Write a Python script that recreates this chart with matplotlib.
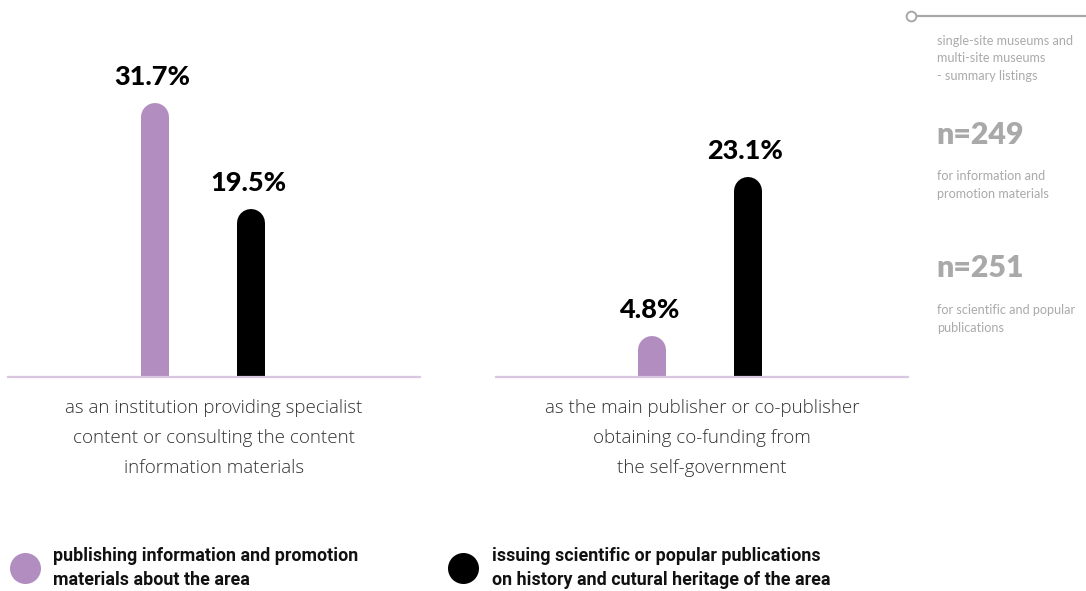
import matplotlib
matplotlib.use("Agg")
import matplotlib.pyplot as plt

# ---------------- data ----------------
series_names = [
    "publishing information and promotion\nmaterials about the area",
    "issuing scientific or popular publications\non history and cutural heritage of the area",
]
series_colors = ["#b28dc0", "#000000"]
categories = [
    "as an institution providing specialist\ncontent or consulting the content\ninformation materials",
    "as the main publisher or co-publisher\nobtaining co-funding from\nthe self-government",
]
promo_values = [31.7, 4.8]
sci_values = [19.5, 23.1]
side_note = "single-site museums and\nmulti-site museums\n- summary listings"
n_labels = ["n=249", "n=251"]
n_notes = ["for information and\npromotion materials", "for scientific and popular\npublications"]

W, H = 1086, 591
DPI = 100
fig = plt.figure(figsize=(W / DPI, H / DPI), dpi=DPI)
fig.patch.set_facecolor("white")

def fx(px):
    return px / W

def fy(py):
    return 1 - py / H

baseline_px = 377
top_px = 30
px_per_pct = 8.64
panel_left = [8, 496]
panel_width = 412
bar_w_px = 28
bar_centers_px = [[155, 251], [652, 748]]

values_by_cat = [[promo_values[i], sci_values[i]] for i in range(len(categories))]

pct_font = dict(family=["Lato", "DejaVu Sans"], weight="black", fontsize=19.5)
for ci, cat in enumerate(categories):
    ax = fig.add_axes([fx(panel_left[ci]), fy(baseline_px),
                       fx(panel_width), (baseline_px - top_px) / H])
    ax.set_xlim(panel_left[ci], panel_left[ci] + panel_width)
    ax.set_ylim(0, (baseline_px - top_px) / px_per_pct)
    r_data = (bar_w_px / 2) / px_per_pct
    lw_pt = bar_w_px * 72 / DPI
    for si, v in enumerate(values_by_cat[ci]):
        xc = bar_centers_px[ci][si]
        ax.plot([xc, xc], [-5, v - r_data], color=series_colors[si],
                lw=lw_pt, solid_capstyle="round", clip_on=True, zorder=2)
        ax.annotate(f"{v:.1f}%", xy=(xc, v), xytext=(-2, 18.7),
                    textcoords="offset points", ha="center", va="center",
                    color="black", **pct_font)
    for s in ["top", "right", "left"]:
        ax.spines[s].set_visible(False)
    ax.spines["bottom"].set_color("#d9c6e0")
    ax.spines["bottom"].set_linewidth(1.6)
    ax.spines["bottom"].set_zorder(3)
    ax.set_xticks([])
    ax.set_yticks([])
    ax.patch.set_alpha(0)
    # category label
    fig.text(fx(panel_left[ci] + 206), fy(399), cat, ha="center", va="top",
             fontsize=13.5, family=["Open Sans", "DejaVu Sans"], weight="light",
             color="#333333", linespacing=1.84)

# ---------------- legend ----------------
ov = fig.add_axes([0, 0, 1, 1])
ov.set_xlim(0, W)
ov.set_ylim(H, 0)
ov.axis("off")
leg_circle_x = [25, 463]
leg_text_x = [53, 492]
for si, name in enumerate(series_names):
    ov.plot(leg_circle_x[si], 568, "o", ms=31 * 72 / DPI,
            color=series_colors[si], mec="none")
    ov.text(leg_text_x[si], 568, name, ha="left", va="center",
            fontsize=12.9, family=["Roboto", "DejaVu Sans"], weight="bold",
            color="#111111", linespacing=1.45)

# ---------------- side notes ----------------
grey_line = "#a8a8a8"
ov.plot([916, W], [16, 16], color=grey_line, lw=1.6, solid_capstyle="butt")
ov.plot(911, 16, "o", ms=7, mfc="white", mec=grey_line, mew=1.4)
side_font = ["Lato", "DejaVu Sans"]
ov.text(937, 35, side_note, ha="left", va="top", fontsize=9.1,
        family=side_font, color="#aaaaaa", linespacing=1.55)
n_y = [135, 268]
note_y = [170, 304]
for i in range(2):
    ov.text(936, n_y[i], n_labels[i], ha="left", va="center", fontsize=21.8,
            family=side_font, weight="heavy", color="#a9a9a9")
    ov.text(937, note_y[i], n_notes[i], ha="left", va="top", fontsize=9.1,
            family=side_font, color="#aaaaaa", linespacing=1.55)

fig.savefig("out.png", dpi=DPI, facecolor="white")
